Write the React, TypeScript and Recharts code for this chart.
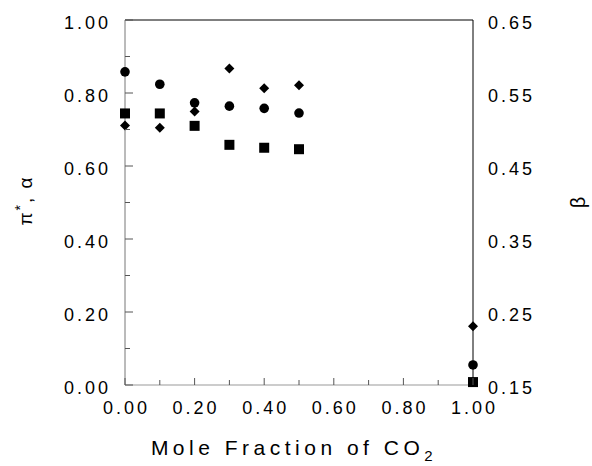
import { ScatterChart, Scatter, XAxis, YAxis, ReferenceLine, Label } from 'recharts'

// mole fraction of CO2
const xValues = [0, 0.1, 0.2, 0.3, 0.4, 0.5, 1.0]
// left axis (π*, α)
const piStar = [0.858, 0.824, 0.773, 0.764, 0.758, 0.745, 0.055]
const alpha = [0.711, 0.705, 0.749, 0.867, 0.813, 0.821, 0.161]
// right axis (β)
const beta = [0.522, 0.522, 0.505, 0.479, 0.475, 0.473, 0.154]

const xTicks = [0, 0.1, 0.2, 0.3, 0.4, 0.5, 0.6, 0.7, 0.8, 0.9, 1.0]
const leftTicks = [0, 0.1, 0.2, 0.3, 0.4, 0.5, 0.6, 0.7, 0.8, 0.9, 1.0]
const rightTicks = [0.15, 0.25, 0.35, 0.45, 0.55, 0.65]

const toPoints = (ys: number[]) => xValues.map((x, i) => ({ x, y: ys[i] }))

const FONT = '"Liberation Sans", Arial, sans-serif'

const isMajor = (v: number) => Math.round(v * 10) % 2 === 0

const CircleDot = (p: any) => <circle cx={p.cx} cy={p.cy} r={4.8} fill="#000" />
const SquareDot = (p: any) => <rect x={p.cx - 5} y={p.cy - 5} width={10} height={10} fill="#000" />
const DiamondDot = (p: any) => (
  <polygon
    points={`${p.cx},${p.cy - 5} ${p.cx + 5},${p.cy} ${p.cx},${p.cy + 5} ${p.cx - 5},${p.cy}`}
    fill="#000"
  />
)

const XTick = (p: any) => {
  const v = p.payload.value
  const major = isMajor(v)
  return (
    <g>
      <line x1={p.x} x2={p.x} y1={p.y} y2={p.y - (major ? 7 : 5)} stroke="#555" />
      {major && (
        <text x={p.x + 1.5} y={p.y + 29} textAnchor="middle" fontFamily={FONT} fontSize={18} letterSpacing={3} fill="#000">
          {v.toFixed(2)}
        </text>
      )}
    </g>
  )
}

const LeftTick = (p: any) => {
  const v = p.payload.value
  const major = isMajor(v)
  return (
    <g>
      <line x1={p.x} x2={p.x + (major ? 8 : 5)} y1={p.y} y2={p.y} stroke="#555" />
      {major && (
        <text x={p.x - 14} y={p.y + 9} textAnchor="end" fontFamily={FONT} fontSize={18} letterSpacing={3} fill="#000">
          {v.toFixed(2)}
        </text>
      )}
    </g>
  )
}

const RightTick = (p: any) => (
  <text x={p.x + 15} y={p.y + 9} textAnchor="start" fontFamily={FONT} fontSize={18} letterSpacing={3} fill="#000">
    {p.payload.value.toFixed(2)}
  </text>
)

const XTitle = (p: any) => {
  const vb = p.viewBox
  return (
    <text x={vb.x + vb.width / 2 - 5} y={455} textAnchor="middle" fontFamily={FONT} fontSize={21} letterSpacing={4.5} fill="#000">
      Mole Fraction of CO
      <tspan fontSize={15} dy={6}>2</tspan>
    </text>
  )
}

const LeftTitle = (p: any) => {
  const vb = p.viewBox
  const cx = vb.x + 32
  const cy = vb.y + vb.height / 2 - 2
  return (
    <text x={cx} y={cy} transform={`rotate(-90 ${cx} ${cy})`} textAnchor="middle" fontFamily={FONT} fontSize={19} letterSpacing={2} fill="#000">
      π<tspan dy={-7} fontSize={14}>*</tspan>
      <tspan dy={7}>, α</tspan>
    </text>
  )
}

const RightTitle = (p: any) => {
  const vb = p.viewBox
  const cx = vb.x + 112
  const cy = vb.y + vb.height / 2
  return (
    <text x={cx} y={cy} transform={`rotate(-90 ${cx} ${cy})`} textAnchor="middle" fontFamily={FONT} fontSize={20} fill="#000">
      β
    </text>
  )
}

export default function App() {
  return (
    <div style={{ position: 'absolute', left: 0, top: 0, background: '#fff' }}>
      <ScatterChart width={592} height={466} margin={{ top: 20, right: 0, left: 0, bottom: 0 }}>
        <XAxis
          type="number"
          dataKey="x"
          domain={[0, 1]}
          ticks={xTicks}
          interval={0}
          height={81}
          tickSize={0}
          tickMargin={0}
          tickLine={false}
          tick={<XTick />}
          axisLine={{ stroke: '#999' }}
        >
          <Label content={<XTitle />} />
        </XAxis>
        <YAxis
          yAxisId="left"
          type="number"
          dataKey="y"
          domain={[0, 1]}
          ticks={leftTicks}
          interval={0}
          width={125}
          tickSize={0}
          tickMargin={0}
          tickLine={false}
          tick={<LeftTick />}
          axisLine={{ stroke: '#777' }}
        >
          <Label content={<LeftTitle />} />
        </YAxis>
        <YAxis
          yAxisId="right"
          orientation="right"
          type="number"
          dataKey="y"
          domain={[0.15, 0.65]}
          ticks={rightTicks}
          interval={0}
          width={119}
          tickSize={0}
          tickMargin={0}
          tickLine={false}
          tick={<RightTick />}
          axisLine={{ stroke: '#000' }}
        >
          <Label content={<RightTitle />} />
        </YAxis>
        <ReferenceLine yAxisId="left" y={1} stroke="#000" />
        <Scatter yAxisId="left" data={toPoints(piStar)} shape={CircleDot} isAnimationActive={false} />
        <Scatter yAxisId="left" data={toPoints(alpha)} shape={DiamondDot} isAnimationActive={false} />
        <Scatter yAxisId="right" data={toPoints(beta)} shape={SquareDot} isAnimationActive={false} />
      </ScatterChart>
    </div>
  )
}
